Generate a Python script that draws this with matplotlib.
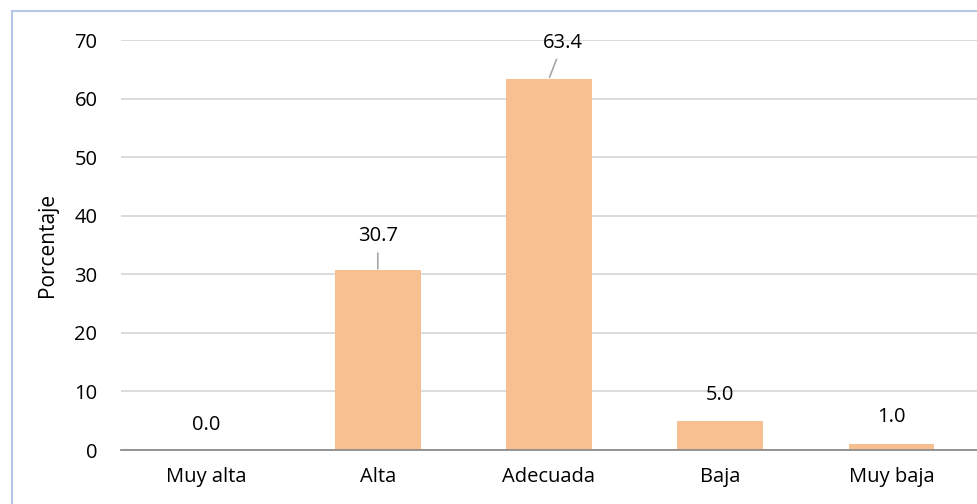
import matplotlib
matplotlib.use("Agg")
import matplotlib.pyplot as plt
from matplotlib.patches import Rectangle

categories = ["Muy alta", "Alta", "Adecuada", "Baja", "Muy baja"]
values = [0.0, 30.7, 63.4, 5.0, 1.0]
yticks = [0, 10, 20, 30, 40, 50, 60, 70]
ylabel = "Porcentaje"

# label offsets in pixels (dx, dy) from bar top, and whether a leader line is drawn
label_offsets = [(0, 25), (0, 34), (14, 36), (0, 26), (0, 27)]
leaders = [False, True, True, False, False]

plt.rcParams['font.family'] = ['Open Sans', 'DejaVu Sans']
W, H = 978, 504
fig = plt.figure(figsize=(W / 100, H / 100), dpi=100)
fig.patch.set_facecolor("white")
fig.patches.append(Rectangle((12 / W, -0.1), 1.1, (1 - 11 / H) + 0.1, transform=fig.transFigure,
                             fill=False, edgecolor="#B4C7E7", linewidth=1.5))

fs = 14.5
ax = fig.add_axes([121 / W, 1 - 450 / H, (977 - 121) / W, (450 - 40) / H])
x = list(range(len(categories)))
ax.bar(x, values, width=0.5, color="#F8C090", zorder=2)
ax.set_xlim(-0.5, len(categories) - 0.5)
ax.set_ylim(0, 70)
ax.set_yticks(yticks)
ax.set_xticks(x)
ax.set_xticklabels(categories)
ax.tick_params(axis="both", length=0, labelsize=fs, colors="black")
ax.tick_params(axis="y", pad=17)
ax.tick_params(axis="x", pad=12)
ax.yaxis.grid(True, color="#D9D9D9", linewidth=1.3, zorder=0)
ax.set_axisbelow(True)
for s in ["top", "right", "left"]:
    ax.spines[s].set_visible(False)
ax.spines["bottom"].set_color("#8C8C8C")
ax.spines["bottom"].set_linewidth(1.3)
ax.set_ylabel(ylabel, fontsize=15, labelpad=12)

for xi, v, (dx, dy), lead in zip(x, values, label_offsets, leaders):
    if lead:
        ax.annotate(f"{v:.1f}", xy=(xi, v), xytext=(dx, dy), textcoords="offset pixels",
                    ha="center", va="center", fontsize=fs,
                    arrowprops=dict(arrowstyle="-", color="#A6A6A6", lw=1.2,
                                    shrinkA=3, shrinkB=1))
    else:
        ax.annotate(f"{v:.1f}", xy=(xi, v), xytext=(dx, dy), textcoords="offset pixels",
                    ha="center", va="center", fontsize=fs)

fig.savefig("out.png", dpi=100)
